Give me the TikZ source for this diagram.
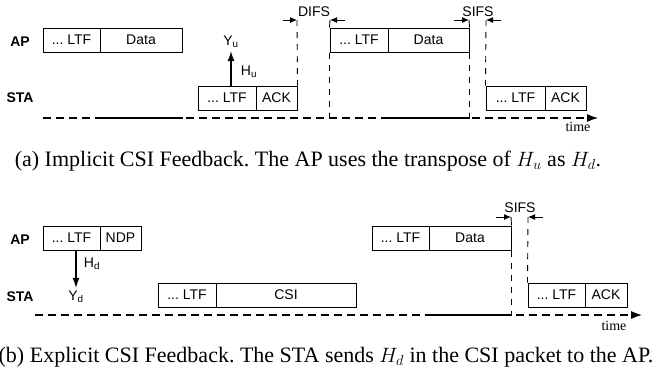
\documentclass[tikz,border=0pt]{standalone}
\usepackage{fontspec}
\setmainfont{Liberation Serif}
\setsansfont{Liberation Sans}
\usetikzlibrary{arrows.meta}
\newcommand{\ltfLabel}{...\ LTF}
\frenchspacing

\begin{document}
\begin{tikzpicture}
[x=1pt,y=-1pt,
  frameDecorate/.style={draw,line width=1pt,minimum height=24pt,inner sep=0pt,font=\sffamily\fontsize{14}{16}\selectfont},
  rowDecorate/.style={inner sep=0pt,font=\sffamily\bfseries\fontsize{14}{16}\selectfont},
  textDecorate/.style={inner sep=0pt,font=\sffamily\fontsize{14}{16}\selectfont},
  timeDecorate/.style={inner sep=0pt,font=\fontsize{14}{16}\selectfont},
  captionDecorate/.style={anchor=base,inner sep=0pt,font=\fontsize{22}{26}\selectfont},
  gapDecorate/.style={line width=0.9pt,dash pattern=on 6pt off 6pt},
  edgeDecorate/.style={line width=0.9pt},
  tipDecorate/.style={line width=1pt,-{Latex[length=7pt,width=6pt]}},
  csiDecorate/.style={line width=1.2pt,-{Latex[length=10pt,width=7pt]}},
  axisDecorate/.style={line width=1.2pt,dash pattern=on 8pt off 5pt,-{Latex[length=11pt,width=8pt]}},
  busyDecorate/.style={line width=1.2pt}]
\useasboundingbox (0,0) rectangle (663,381);

%% (a) implicit feedback
%% packets
\foreach \nodename/\x/\y/\w/\txt in {apLtfA/71.5/40/57/\ltfLabel, apDataA/141/40/82/Data,
  staLtfA/227/98/58/\ltfLabel, staAckA/276.5/98/41/ACK,
  apLtfB/359/40/58/\ltfLabel, apDataB/428.5/40/81/Data,
  staLtfB/515.5/98/59/\ltfLabel, staAckB/565.5/98/41/ACK}
{
  \node (\nodename) at (\x,\y) [frameDecorate,minimum width=\w] {\txt};
}
\node (apA) at (20,42) [rowDecorate] {AP};
\node (staA) at (20,98) [rowDecorate] {STA};
%% channel estimate
\node (yu) at (231,42) [textDecorate] {Y\textsubscript{u}};
\node (hu) at (249,72) [textDecorate] {H\textsubscript{u}};
\draw[csiDecorate,shorten >=3pt] (staLtfA.north -| yu) -- (yu.south);
%% interframe spaces
\coordinate (difsL) at (297,20);
\coordinate (difsR) at (330,20);
\coordinate (sifsL) at (469,20);
\coordinate (sifsR) at (486,20);
\node (difs) at (314,12) [textDecorate] {DIFS};
\node (sifsA) at (478,12) [textDecorate] {SIFS};
\draw[gapDecorate] (difsL) -- (staAckA.north east);
\draw[edgeDecorate] (difsR) -- (apLtfB.north west);
\draw[edgeDecorate] (sifsL) -- (apDataB.north east);
\draw[gapDecorate] (sifsR) -- (staLtfB.north west);
\draw[tipDecorate] ([xshift=-14pt]difsL) -- (difsL);
\draw[tipDecorate] ([xshift=15pt]difsR) -- (difsR);
\draw[tipDecorate] ([xshift=-15pt]sifsL) -- (sifsL);
\draw[tipDecorate] ([xshift=15pt]sifsR) -- (sifsR);
%% time axis
\coordinate (axisAs) at (43,118);
\coordinate (axisAe) at (598,118);
\draw[gapDecorate] (apLtfB.south west) -- (apLtfB.south west |- axisAs);
\draw[gapDecorate] (apDataB.south east) -- (apDataB.south east |- axisAs);
\draw[axisDecorate] (axisAs) -- (axisAe);
\draw[busyDecorate] (apDataA.west |- axisAs) -- (apDataA.east |- axisAs);
\draw[busyDecorate] (apDataB.west |- axisAs) -- (apDataB.east |- axisAs);
\node (timeA) at (578,127) [timeDecorate] {time};
\node (capA) at (308,166) [captionDecorate] {(a) Implicit CSI Feedback. The AP uses the transpose of $H_u$ as $H_d$.};

%% (b) explicit feedback
%% packets
\foreach \nodename/\x/\y/\w/\txt in {ndpLtf/71.5/238/57/\ltfLabel, ndp/120.5/238/41/NDP,
  csiLtf/187/295/58/\ltfLabel, csi/286/295/140/CSI,
  dataLtf/400.5/238/57/\ltfLabel, data/470/238/82/Data,
  ackLtf/556.5/295/57/\ltfLabel, ack/606/295/42/ACK}
{
  \node (\nodename) at (\x,\y) [frameDecorate,minimum width=\w] {\txt};
}
\node (apB) at (20,240) [rowDecorate] {AP};
\node (staB) at (20,297) [rowDecorate] {STA};
%% channel estimate
\node (yd) at (76,297) [textDecorate] {Y\textsubscript{d}};
\node (hd) at (92,264) [textDecorate] {H\textsubscript{d}};
\draw[csiDecorate,shorten >=3pt] (ndpLtf.south -| yd) -- (yd.north);
%% interframe space
\coordinate (sifsBL) at (511,217);
\coordinate (sifsBR) at (528,217);
\node (sifsB) at (520,208) [textDecorate] {SIFS};
\draw[edgeDecorate] (sifsBL) -- (data.north east);
\draw[gapDecorate] (sifsBR) -- (ackLtf.north west);
\draw[tipDecorate] ([xshift=-15pt]sifsBL) -- (sifsBL);
\draw[tipDecorate] ([xshift=15pt]sifsBR) -- (sifsBR);
%% time axis
\coordinate (axisBs) at (35,315);
\coordinate (axisBe) at (642,315);
\draw[gapDecorate] (data.south east) -- (data.south east |- axisBs);
\draw[axisDecorate] (axisBs) -- (axisBe);
\draw[busyDecorate] (data.west |- axisBs) -- (data.east |- axisBs);
\node (timeB) at (614,326) [timeDecorate] {time};
\node (capB) at (326,362) [captionDecorate] {(b) Explicit CSI Feedback. The STA sends $H_d$ in the CSI packet to the AP.};
\end{tikzpicture}
\end{document}
